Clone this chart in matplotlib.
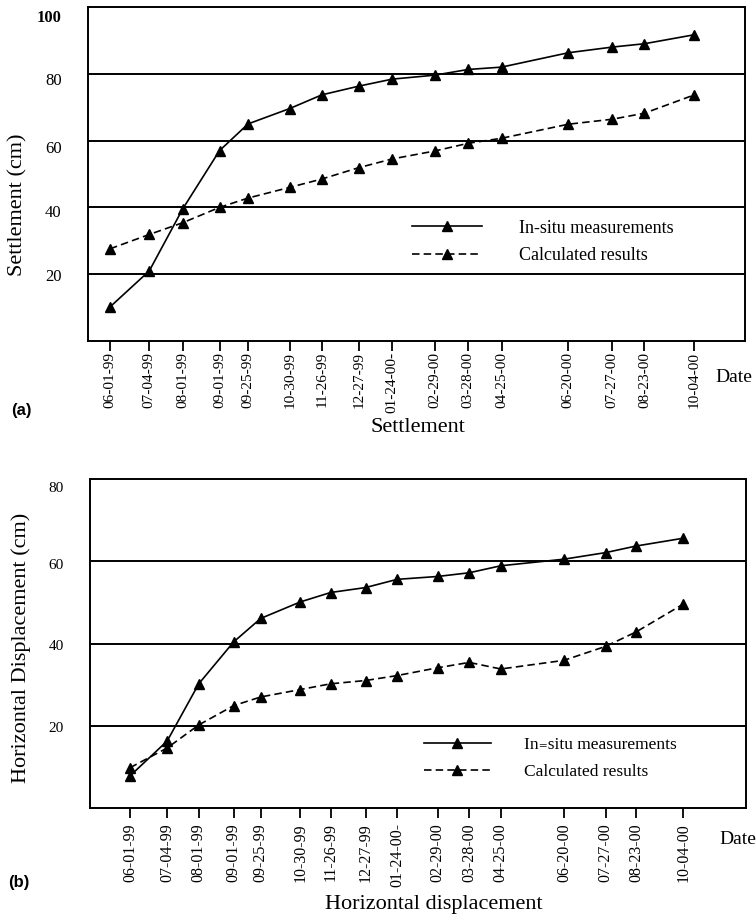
import matplotlib
matplotlib.use("Agg")
import matplotlib.pyplot as plt
import pandas as pd
from matplotlib.lines import Line2D
from matplotlib.transforms import ScaledTranslation

# ---------------- data ----------------
dates = ["1999-06-01", "1999-07-04", "1999-08-01", "1999-09-01", "1999-09-25",
         "1999-10-30", "1999-11-26", "1999-12-27", "2000-01-24", "2000-02-29",
         "2000-03-28", "2000-04-25", "2000-06-20", "2000-07-27", "2000-08-23",
         "2000-10-04"]
tick_labels = ["06-01-99", "07-04-99", "08-01-99", "09-01-99", "09-25-99",
               "10-30-99", "11-26-99", "12-27-99", "01-24-00-", "02-29-00",
               "03-28-00", "04-25-00", "06-20-00", "07-27-00", "08-23-00",
               "10-04-00"]

settle_measured = [10.2, 21.0, 39.5, 57.0, 65.0, 69.6, 73.7, 76.3, 78.4, 79.6,
                   81.3, 82.0, 86.3, 88.0, 89.0, 91.7]
settle_calc = [27.6, 31.9, 35.4, 40.0, 42.8, 46.0, 48.5, 51.9, 54.5, 56.9,
               59.2, 60.7, 64.9, 66.4, 68.2, 73.7]

horiz_measured = [7.8, 16.3, 30.2, 40.4, 46.1, 50.1, 52.4, 53.6, 55.6, 56.3,
                  57.2, 58.9, 60.5, 62.1, 63.7, 65.6]
horiz_calc = [9.8, 14.6, 20.2, 24.9, 27.0, 28.8, 30.2, 31.0, 32.2, 34.1,
              35.4, 33.8, 35.9, 39.3, 42.8, 49.6]

top_yticks = [20, 40, 60, 80, 100]
bot_yticks = [20, 40, 60, 80]

# ---------------- style ----------------
SERIF = "Liberation Serif"
plt.rcParams["font.family"] = [SERIF, "DejaVu Serif"]

x = (pd.to_datetime(dates) - pd.to_datetime(dates[0])).days.values

W, H = 756, 917
fig = plt.figure(figsize=(W / 100, H / 100), dpi=100)


def fx(px):
    return px / W


def fy(py):
    return 1 - py / H


def make_axes(left, right, top, bottom):
    return fig.add_axes([fx(left), fy(bottom), fx(right) - fx(left), (bottom - top) / H])


def style_axes(ax, yticks, ylim, xlim, ytick_fs, xtick_fs, xpad, gridlines, yoffsets):
    ax.set_xlim(*xlim)
    ax.set_ylim(*ylim)
    for s in ax.spines.values():
        s.set_linewidth(1.4)
        s.set_color("black")
    for g in gridlines:
        ax.axhline(g, color="black", lw=1.4, zorder=1)
    ax.set_xticks(x)
    ax.set_xticklabels(tick_labels, rotation=90, fontsize=xtick_fs, family=SERIF, va="top")
    ax.tick_params(axis="x", direction="out", length=7, width=1.3, pad=xpad)
    ax.set_yticks(yticks)
    ax.set_yticklabels([str(v) for v in yticks], fontsize=ytick_fs, family=SERIF)
    ax.tick_params(axis="y", length=0, pad=19)
    for lab, off in zip(ax.get_yticklabels(), yoffsets):
        lab.set_transform(lab.get_transform() + ScaledTranslation(0, -off / 100, fig.dpi_scale_trans))


def plot_series(ax, meas, calc):
    ax.plot(x, meas, color="black", lw=1.2, marker="^", ms=7, zorder=3)
    ax.plot(x, calc, color="black", lw=1.2, ls=(0, (4.5, 2.5)), marker="^", ms=7, zorder=3)
    handles = [
        Line2D([], [], color="black", lw=1.2, marker="^", ms=7),
        Line2D([], [], color="black", lw=1.2, ls=(0, (4.5, 2.5)), marker="^", ms=7),
    ]
    return handles


# ---------------- (a) settlement ----------------
ax1 = make_axes(88, 745, 7, 341)
style_axes(ax1, top_yticks, (0, 100), (-18.5, 533.5), 12, 11, 1, [20, 40, 60, 80],
           [1, 4, 6, 5, 9])
ax1.get_yticklabels()[-1].set_fontweight("bold")
h1 = plot_series(ax1, settle_measured, settle_calc)
ax1.legend(h1, ["In-situ measurements", "Calculated results"],
           loc="center left", bbox_to_anchor=((412 - 88) / 657, (341 - 242) / 334),
           frameon=False, fontsize=13, handlelength=3.9, handletextpad=2.0,
           labelspacing=0.6, borderpad=0, borderaxespad=0)

fig.text(fx(17.5), fy(204.5), "Settlement (cm)", rotation=90, ha="center", va="center",
         fontsize=16, family=SERIF)
fig.text(fx(417.5), fy(428), "Settlement", ha="center", va="center", fontsize=16, family=SERIF)
fig.text(fx(715), fy(377), "Date", ha="left", va="center", fontsize=14, family=SERIF)
fig.text(fx(11), fy(411), "(a)", ha="left", va="center", fontsize=12, fontweight="bold",
         family="Liberation Sans")

# ---------------- (b) horizontal displacement ----------------
ax2 = make_axes(90, 745.7, 479, 808)
style_axes(ax2, bot_yticks, (0, 80), (-35.5, 546.3), 11, 11.5, 4, [20, 40, 60],
           [1, 1, 3, 8])
h2 = plot_series(ax2, horiz_measured, horiz_calc)
ax2.legend(h2, ["In₌situ measurements", "Calculated results"],
           loc="center left", bbox_to_anchor=((424 - 90) / 655.7, (808 - 758.5) / 329),
           frameon=False, fontsize=12.5, handlelength=3.85, handletextpad=1.9,
           labelspacing=0.6, borderpad=0, borderaxespad=0)

fig.text(fx(21), fy(648), "Horizontal Displacement (cm)", rotation=90, ha="center",
         va="center", fontsize=16, family=SERIF)
fig.text(fx(434), fy(905), "Horizontal displacement", ha="center", va="center",
         fontsize=16, family=SERIF)
fig.text(fx(719), fy(840), "Date", ha="left", va="center", fontsize=14, family=SERIF)
fig.text(fx(8), fy(883), "(b)", ha="left", va="center", fontsize=12, fontweight="bold",
         family="Liberation Sans")

fig.savefig("out.png", dpi=100, facecolor="white")
